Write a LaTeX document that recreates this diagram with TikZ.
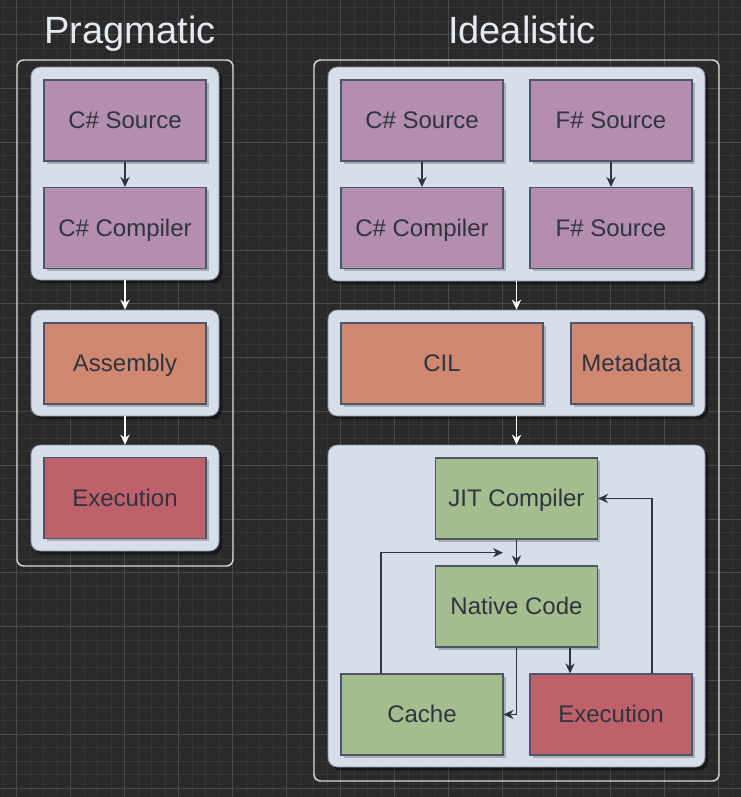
\documentclass[tikz,border=0pt]{standalone}
\usepackage{fontspec}
\setmainfont{Liberation Sans}
\usetikzlibrary{arrows.meta,shadows,calc}
\definecolor{bgc}{HTML}{2A2A2A}
\definecolor{gridminor}{HTML}{363636}
\definecolor{gridmajor}{HTML}{4A4A4A}
\definecolor{nordtext}{HTML}{2E3440}
\definecolor{nordline}{HTML}{4C566A}
\definecolor{nordlight}{HTML}{D8DEE9}
\definecolor{titlec}{HTML}{E5E9F0}
\definecolor{framec}{HTML}{D4D8DE}
\definecolor{cpurple}{HTML}{B48EAD}
\definecolor{corange}{HTML}{D08770}
\definecolor{cred}{HTML}{BF616A}
\definecolor{cgreen}{HTML}{A3BE8C}
\tikzset{
  proc/.style={draw=nordline, line width=0.9pt, minimum width=121.5pt, minimum height=60.75pt,
    inner sep=0pt, text=nordtext, font=\fontsize{18}{20}\selectfont,
    text height=14.5pt, text depth=2pt,
    drop shadow={shadow xshift=2.2pt, shadow yshift=-2.2pt, fill=black, opacity=0.22}},
  cont/.style={draw=nordline!60!nordlight, line width=0.6pt, fill=nordlight, rounded corners=7pt,
    minimum width=141pt, inner sep=0pt,
    drop shadow={shadow xshift=2.5pt, shadow yshift=-2.5pt, fill=black, opacity=0.45}},
  frame/.style={draw=framec, line width=1.1pt, rounded corners=5pt, inner sep=0pt},
  ttl/.style={text=titlec, font=\fontsize{28.5}{30}\selectfont, text height=20.5pt, text depth=5.5pt},
  darr/.style={draw=nordtext, line width=1pt, -{Stealth[length=7.5pt,width=7pt]}},
  warr/.style={draw=white, line width=1pt, -{Stealth[length=7.5pt,width=7pt]}},
}
\begin{document}
\begin{tikzpicture}[x=0.75pt,y=-0.75pt]
\fill[bgc] (0,0) rectangle (741,797);
\useasboundingbox (0,0) rectangle (741,797);
% grid
\foreach \i in {0,...,54} {\draw[gridminor,line width=0.5pt] ({3.2+\i*13.5},0) -- ({3.2+\i*13.5},797);}
\foreach \i in {0,...,59} {\draw[gridminor,line width=0.5pt] (0,{7.8+\i*13.45}) -- (741,{7.8+\i*13.45});}
\foreach \i in {0,...,13} {\draw[gridmajor,line width=0.6pt] ({16.7+\i*54},0) -- ({16.7+\i*54},797);}
\foreach \i in {0,...,14} {\draw[gridmajor,line width=0.6pt] (0,{34.7+\i*53.8}) -- (741,{34.7+\i*53.8});}

% titles
\node[ttl] (tprag) at (130,33) {Pragmatic};
\node[ttl] (tideal) at (522,33) {Idealistic};

% frames
\node[frame, minimum width=162pt, minimum height=379.5pt] (lframe) at (125,313) {};
\node[frame, minimum width=303.75pt, minimum height=540.75pt] (rframe) at (516.5,420.5) {};

% left containers
\node[cont, minimum height=159.75pt] (lc1) at (125,173.5) {};
\node[cont, minimum height=79.5pt] (lc2) at (125,363) {};
\node[cont, minimum height=79.5pt] (lc3) at (125,498) {};

\node[proc, fill=cpurple] (lcs) at (125,120.5) {C\# Source};
\node[proc, fill=cpurple] (lcc) at (125,228) {C\# Compiler};
\node[proc, fill=corange] (lasm) at (125,363.5) {Assembly};
\node[proc, fill=cred] (lexe) at (125,498) {Execution};

\draw[darr] (lcs) -- (lcc);
\draw[warr] (lc1) -- (lc2);
\draw[warr] (lc2) -- (lc3);

% right containers
\node[cont, minimum width=282.75pt, minimum height=160.5pt] (rc1) at (516.5,174) {};
\node[cont, minimum width=282.75pt, minimum height=79.5pt] (rc2) at (516.5,363) {};
\node[cont, minimum width=282.75pt, minimum height=241.5pt] (rc3) at (516.5,606) {};

\node[proc, fill=cpurple] (rcs) at (422,120.5) {C\# Source};
\node[proc, fill=cpurple] (rfs) at (611,120.5) {F\# Source};
\node[proc, fill=cpurple] (rcc) at (422,228) {C\# Compiler};
\node[proc, fill=cpurple] (rfs2) at (611,228) {F\# Source};
\draw[darr] (rcs) -- (rcc);
\draw[darr] (rfs) -- (rfs2);

\node[proc, fill=corange, minimum width=151.5pt] (cil) at (442,363.5) {CIL};
\node[proc, fill=corange, minimum width=90.75pt] (meta) at (631.5,363.5) {Metadata};

\draw[warr] (rc1) -- (rc2);
\draw[warr] (rc2) -- (rc3);

\node[proc, fill=cgreen] (jit) at (516.5,498.5) {JIT Compiler};
\node[proc, fill=cgreen] (native) at (516.5,606.5) {Native Code};
\node[proc, fill=cgreen] (cache) at (422,714.5) {Cache};
\node[proc, fill=cred] (exe) at (611,714.5) {Execution};

\coordinate (loopin) at (503,552.7);
\draw[darr] (jit) -- (native);
\draw[darr] ($(cache.north)+(-41,0)$) |- (loopin);
\draw[darr] (native.south) |- (cache.east);
\draw[darr] ($(native.south)+(53.5,0)$) -- ($(exe.north)+(-41,0)$);
\draw[darr] ($(exe.north)+(41,0)$) |- (jit.east);
\end{tikzpicture}
\end{document}
